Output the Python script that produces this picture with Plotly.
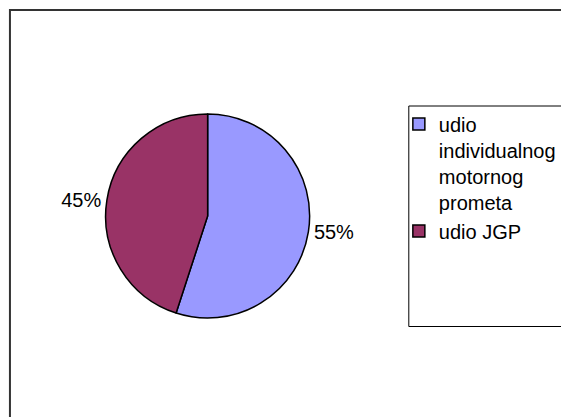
import plotly.graph_objects as go

labels = ["udio<br>individualnog<br>motornog<br>prometa", "udio JGP"]
values = [55, 45]
colors = ["#9999FF", "#993366"]

W, H = 561, 417

def px(x):
    return x / W

def py(y):
    return 1 - y / H

FONT = "Liberation Sans, Arial"

fig = go.Figure()
fig.add_trace(go.Pie(
    labels=labels,
    values=values,
    sort=False,
    direction="clockwise",
    rotation=0,
    marker=dict(colors=colors, line=dict(color="black", width=1.5)),
    textinfo="percent",
    texttemplate="%{percent:.0%}",
    textposition="outside",
    outsidetextfont=dict(family=FONT, size=20, color="black"),
    domain=dict(x=[px(106), px(311.5)], y=[py(318), py(114)]),
    hoverinfo="label+percent",
))

fig.add_shape(type="rect", xref="paper", yref="paper",
              x0=px(10), y0=py(430), x1=px(580), y1=py(10),
              line=dict(color="#333333", width=2), layer="below")
fig.add_shape(type="rect", xref="paper", yref="paper",
              x0=px(411), y0=py(326.5), x1=px(580), y1=py(106),
              line=dict(color="black", width=1), layer="below")

fig.update_layout(
    width=W, height=H,
    margin=dict(l=0, r=0, t=0, b=0),
    paper_bgcolor="white",
    plot_bgcolor="white",
    showlegend=True,
    legend=dict(
        x=px(401), y=py(104.5), xanchor="left", yanchor="top",
        font=dict(family=FONT, size=20, color="black"),
        bgcolor="rgba(0,0,0,0)", borderwidth=0,
        tracegroupgap=0, itemwidth=30, valign="top",
    ),
    font=dict(family=FONT, size=20, color="black"),
)

fig.write_html("out.html")
